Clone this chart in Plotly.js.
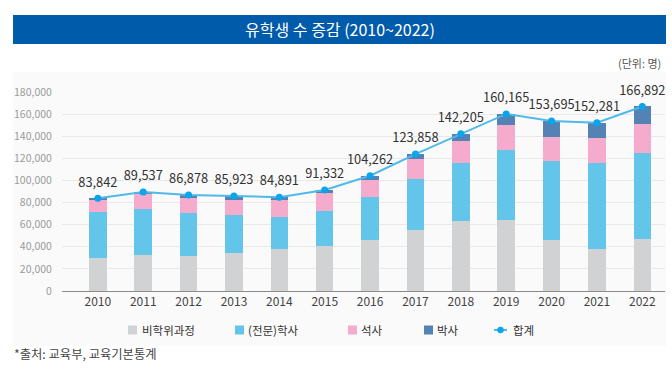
<!DOCTYPE html>
<html>
<head>
<meta charset="utf-8">
<script src="https://cdn.plot.ly/plotly-3.0.1.min.js"></script>
<style>
  html, body { margin: 0; padding: 0; background: #ffffff; }
  #chart { width: 672px; height: 383px; }
</style>
</head>
<body>
<div id="chart"></div>
<script>
// ---- data ----
const years = ['2010','2011','2012','2013','2014','2015','2016','2017','2018','2019','2020','2021','2022'];
const nonDegree = [30300, 32400, 31500, 34500, 37900, 40900, 46400, 55500, 63600, 64200, 46100, 37600, 47300];
const bachelor  = [41500, 41500, 39100, 34000, 29400, 31200, 38400, 45400, 52100, 63100, 71800, 78100, 77500];
const master    = [10200, 14100, 13300, 13500, 15100, 16400, 15200, 18500, 19800, 23000, 21500, 22500, 26700];
const doctor    = [1842, 1537, 2978, 3923, 2491, 2832, 4262, 4458, 6705, 9865, 14295, 14081, 15392];
const totals    = [83842, 89537, 86878, 85923, 84891, 91332, 104262, 123858, 142205, 160165, 153695, 152281, 166892];
const seriesNames = ['비학위과정', '(전문)학사', '석사', '박사', '합계'];
const yTicks = [0, 20000, 40000, 60000, 80000, 100000, 120000, 140000, 160000, 180000];

const FONT = '"Noto Sans CJK KR", "Noto Sans", sans-serif';
const barColors = ['#d1d2d4', '#64c5ea', '#f5abcc', '#5482b5'];
const lineColor = '#4fb9ea';
const dotColor = '#0ba5e9';
const barSeries = [nonDegree, bachelor, master, doctor];

const traces = barSeries.map((vals, i) => ({
  type: 'bar',
  name: seriesNames[i],
  x: years,
  y: vals,
  width: 0.385,
  marker: { color: barColors[i], line: { width: 0 } },
  hoverinfo: 'skip'
}));

traces.push({
  type: 'scatter',
  mode: 'lines+markers',
  name: seriesNames[4],
  x: years,
  y: totals,
  line: { color: lineColor, width: 2 },
  marker: { color: dotColor, size: 7 },
  cliponaxis: false,
  hoverinfo: 'skip'
});

// value labels (transparent, larger marker only sets the label offset)
traces.push({
  type: 'scatter',
  mode: 'markers+text',
  name: seriesNames[4] + ' label',
  x: years,
  y: totals,
  marker: { color: 'rgba(0,0,0,0)', size: 12 },
  texttemplate: '%{y:,}',
  textposition: 'top center',
  textfont: { family: FONT, size: 12.8, color: '#333333' },
  cliponaxis: false,
  showlegend: false,
  hoverinfo: 'skip'
});

// plot area: x 62..665 px, y 92..291 px
const px = v => (v - 62) / 603;
const py = v => (291 - v) / 199;

// custom legend (symbol + label), laid out like the reference
const legendY = 330;
const legendSquares = [128, 235, 348, 424];
const legendTextX = [140, 246, 359, 435, 511];
const legendShapes = legendSquares.map((x0, i) => ({
  type: 'rect', xref: 'paper', yref: 'paper',
  x0: px(x0), x1: px(x0 + 9), y0: py(legendY + 4.5), y1: py(legendY - 4.5),
  fillcolor: barColors[i], line: { width: 0 }
}));
legendShapes.push({
  type: 'line', xref: 'paper', yref: 'paper',
  x0: px(494), x1: px(507), y0: py(legendY), y1: py(legendY),
  line: { color: lineColor, width: 2 }
});
legendShapes.push({
  type: 'circle', xref: 'paper', yref: 'paper',
  x0: px(497.3), x1: px(503.7), y0: py(legendY + 3.2), y1: py(legendY - 3.2),
  fillcolor: dotColor, line: { width: 0 }
});
const legendAnn = seriesNames.map((name, i) => ({
  text: name, xref: 'paper', yref: 'paper', x: px(legendTextX[i]), y: py(legendY),
  xanchor: 'left', yanchor: 'middle', showarrow: false,
  font: { family: FONT, size: 11.5, color: '#333333' }
}));

const layout = {
  width: 672,
  height: 383,
  margin: { l: 62, r: 7, t: 92, b: 92 },
  paper_bgcolor: '#ffffff',
  plot_bgcolor: 'rgba(0,0,0,0)',
  barmode: 'stack',
  showlegend: false,
  font: { family: FONT, color: '#333333' },
  title: {
    text: '유학생 수 증감 (2010~2022)',
    font: { family: FONT, size: 16, color: '#ffffff' },
    x: 340 / 672, xanchor: 'center', xref: 'container',
    y: 1 - 30 / 383, yanchor: 'middle', yref: 'container'
  },
  xaxis: {
    type: 'category',
    range: [-0.79, 12.5],
    showgrid: false,
    showline: true,
    linecolor: '#8c8c8c',
    linewidth: 1,
    ticks: '',
    tickfont: { family: FONT, size: 12, color: '#444444' },
    fixedrange: true
  },
  yaxis: {
    range: [0, 180000],
    tickvals: yTicks,
    tickformat: ',',
    showgrid: true,
    gridcolor: '#e9e9e9',
    gridwidth: 1,
    zeroline: false,
    ticks: 'outside',
    ticklen: 7,
    tickcolor: 'rgba(0,0,0,0)',
    tickfont: { family: FONT, size: 10.5, color: '#9a9a9a' },
    fixedrange: true
  },
  shapes: [
    { type: 'rect', xref: 'paper', yref: 'paper', layer: 'below',
      x0: px(13), x1: px(666), y0: py(346), y1: py(72),
      fillcolor: '#fafafa', line: { width: 0 } },
    { type: 'rect', xref: 'paper', yref: 'paper', layer: 'below',
      x0: px(13), x1: px(666), y0: py(44), y1: py(15),
      fillcolor: '#005bab', line: { width: 0 } }
  ].concat(legendShapes),
  annotations: [
    { text: '(단위: 명)', xref: 'paper', yref: 'paper', x: px(663), y: py(63),
      xanchor: 'right', yanchor: 'middle', showarrow: false,
      font: { family: FONT, size: 11, color: '#555555' } },
    { text: '*출처: 교육부, 교육기본통계', xref: 'paper', yref: 'paper', x: px(12), y: py(354),
      xanchor: 'left', yanchor: 'middle', showarrow: false,
      font: { family: FONT, size: 12.3, color: '#444444' } }
  ].concat(legendAnn)
};

Plotly.newPlot('chart', traces, layout, { displayModeBar: false, staticPlot: true });
</script>
</body>
</html>
